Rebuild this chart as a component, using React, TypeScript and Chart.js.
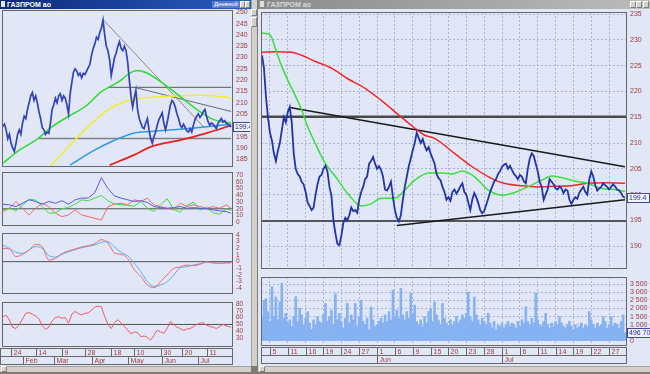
import React, { useEffect, useRef } from 'react';
import { Chart, registerables } from 'chart.js';

Chart.register(...registerables);

const FONT = '"Liberation Sans", Arial, sans-serif';
const TICK = '#9a3a3a';
const BG = '#e2e7f7';
const GRID = '#a8b4da';
const FRAME = '#686868';

// ================= LEFT WINDOW (daily) =================
const leftClose = [
  199.5, 200.5, 198, 194, 196, 192, 190, 188.5, 192, 196,
  198, 196, 201, 204, 203, 207, 210, 213, 214.5, 211,
  213, 210, 206, 203, 199, 198, 196, 197, 196.5, 201,
  207, 209, 212, 210, 213, 214, 211, 213, 212, 209,
  205, 214, 219, 223.5, 225, 224, 222, 223, 221, 223,
  222.5, 224, 225.5, 227, 231, 234, 236, 239, 238, 241,
  243, 246.5, 240, 235, 233, 229, 222, 226, 230, 232,
  235, 237, 234, 233, 235, 233, 228, 220, 213, 208,
  212, 215.5, 207, 203, 201, 199, 198.5, 201, 203, 198,
  194, 192, 195, 197, 200, 202.5, 204, 205.5, 201, 198,
  201, 205, 209, 211, 210, 208, 205, 203, 200, 199,
  200.5, 199, 197.5, 197, 198.5, 197, 200, 202.5, 204, 205,
  203.5, 204.5, 206, 207, 204, 201.5, 200, 201, 200.5, 199.5,
  198.5, 201, 202, 203, 201.5, 202, 201, 200.5, 199.8, 199.4,
];
const leftGreenMA = [[0, 183.2], [10, 189], [20, 193.4], [30, 199.4], [40, 204], [50, 208.2], [60, 214.9], [66, 217.4], [72, 220], [77, 223], [82, 224.2], [88, 223], [96, 219.3], [104, 215], [112, 210.4], [120, 206], [128, 202.6], [139, 200.9]];
const leftYellowMA = [[29, 182], [40, 190.5], [52, 199.4], [64, 206.8], [74, 210.4], [80, 211.6], [90, 212.4], [104, 213], [120, 213.3], [130, 213], [139, 212]];
const leftBlueMA = [[41, 182.4], [56, 189.1], [68, 193.4], [80, 196.6], [90, 197.3], [104, 198], [120, 199], [139, 200.5]];
const leftRedMA = [[65, 182.4], [80, 186.9], [90, 190.5], [108, 193.4], [124, 196.5], [139, 200]];
const leftTrendDown = [[61, 246.8], [123, 198.7]];
const leftTrendMid = [[80, 216.8], [139, 206.1]];
const leftLevelHigh = [[64, 216.8], [139, 216.8]];
const leftLevelLow = [[22, 194.2], [139, 194.2]];
const leftPriceTicks = [185, 190, 195, 200, 205, 210, 215, 220, 225, 230, 235, 240, 245, 250];
const leftLastPrice = 199.4;

const IND_STEP = 4;
const RSI_STEP = 2;
const LEFT_LAST = 139;

const dmiAdx = [26.8, 25.8, 23.3, 28.3, 33.3, 30.8, 26.8, 30.8, 28.3, 32, 26.8, 33.3, 35.8, 36, 44, 66, 50, 39, 35.8, 33.3, 30.8, 32, 29.5, 23.3, 21.8, 20.8, 21.8, 23.3, 20.8, 21.8, 20.8, 19.9, 18.4, 16.9, 15.9, 13.4];
const dmiPlus = [18.4, 21, 17, 26, 34, 33, 23, 13.5, 14, 20, 22, 27, 33.3, 32, 36, 39.7, 32, 27, 26, 25, 24, 31, 21, 15.9, 26, 35, 19, 15, 25, 30, 18, 22, 14, 12, 20, 18];
const dmiMinus = [15.9, 20.8, 30.8, 20.8, 10.9, 20.8, 28.3, 23.3, 13.4, 8.4, 10.9, 18.4, 10.9, 8.4, 5.9, 3.4, 23.3, 26.8, 28.3, 25.8, 33.3, 30.8, 35.8, 25.8, 23.3, 20.8, 18.4, 28.3, 23.3, 25.8, 23.3, 20.8, 23.3, 20.8, 25.8, 20.8];
const dmiTicks = [0, 10, 20, 30, 40, 50, 60, 70];
const dmiLevel = 20;

const macdLine = [2.0, 1.9, 0.75, 1.1, 1.75, 2.6, 2.25, 0.25, 0.5, 1.2, 1.6, 1.9, 2.2, 2.4, 2.7, 3.3, 2.8, 1.3, 1.1, 0.5, -1.2, -2.2, -3.5, -3.9, -3.0, -2.0, -1.0, -0.8, -0.5, -0.6, -0.4, 0.0, -0.2, -0.25, -0.15, -0.1];
const macdSignal = [2.5, 2.0, 1.4, 1.25, 1.75, 2.25, 2.0, 0.9, 0.7, 1.1, 1.5, 1.8, 2.1, 2.3, 2.5, 2.9, 3.0, 2.2, 1.4, 0.9, -0.2, -1.5, -3.0, -3.7, -3.5, -3.0, -2.0, -0.9, -0.75, -0.5, -0.3, -0.1, -0.15, -0.2, -0.2, -0.2];
const macdTicks = [-4, -3, -2, -1, 0, 1, 2, 3, 4];
const macdLevel = 0;

const rsiLine = [
  61.4, 63.8, 56.5, 46, 44, 50, 58, 66.3, 67.5, 65,
  62.5, 58, 48, 42.8, 46, 55, 60, 61.4, 59, 60,
  52, 65, 69, 66, 64, 66.3, 67, 71, 75.5, 77,
  76, 62, 50, 44, 53, 57, 52, 47, 41.8, 36,
  39, 38, 32, 33, 31, 27, 34, 41.8, 39, 37,
  44, 54, 50, 46, 44, 41, 43, 44, 46.6, 50,
  52, 52.5, 49, 47, 46, 44, 47, 50, 48, 46.6,
  46,
];
const rsiTicks = [30, 40, 50, 60, 70, 80];
const rsiLevel = 50;

const leftDayIdx = [5, 20, 36, 50, 66, 80, 96, 109, 124];
const leftDayLabels = ['24', '14', '9', '28', '18', '10', '30', '20', '11'];
const leftMonthIdx = [12, 31, 54, 76, 97, 119];
const leftMonthLabels = ['Feb', 'Mar', 'Apr', 'May', 'Jun', 'Jul'];

// ================= RIGHT WINDOW (intraday) =================
const rightClose = [
  227, 224.5, 219, 215, 212, 210.5, 208, 206.5, 208.5, 210,
  212.5, 215, 214, 216, 217, 214, 208, 205, 204, 203.5,
  202.5, 202, 200.5, 198.5, 197.8, 197, 197.5, 200, 202, 203.5,
  203.8, 205, 205.6, 204.5, 201.5, 199.8, 195, 192.5, 190.5, 190.2,
  192, 194.5, 195.5, 195, 196, 197.5, 196.8, 197, 196.5, 199,
  200.5, 201.5, 203, 203.5, 206, 206.5, 207.3, 206, 205, 205.5,
  204.8, 203.5, 201, 200.8, 201.5, 202.5, 199.5, 197, 195.5, 194.8,
  196, 199, 201.5, 203.5, 205.5, 207, 208.6, 210, 212, 211,
  210, 210.8, 209.5, 208.6, 209.2, 208, 207, 206, 204, 203.2,
  202.8, 201.5, 200.5, 199, 199.5, 198.8, 200.5, 201, 200.2, 200.8,
  201.6, 202.2, 200.5, 200, 198.5, 197, 199, 200.3, 199.5, 198.4,
  197, 196.4, 196.8, 198, 199.2, 200.5, 201.5, 202.5, 203, 204,
  204.5, 205.4, 205.8, 206, 205, 205.6, 204.8, 204, 203.6, 203,
  203.8, 203.5, 202.6, 202.2, 205, 207, 208, 207.5, 206, 204.5,
  202.5, 201.5, 199, 200, 201, 203, 202.5, 202, 201.2, 201,
  201.6, 201.2, 200.3, 201, 200.8, 199, 198.2, 199, 199.5, 199.2,
  200.4, 201, 201.5, 200.5, 200, 203, 204.5, 203.5, 201.8, 200.8,
  201.2, 201.5, 202.2, 201.8, 201.5, 201, 201.5, 202, 201.6, 201,
  200.8, 200.3, 199.6, 199.4,
];
const rightGreenMA = [[0, 231.3], [4, 231], [7, 228], [10, 224.8], [13, 222.2], [17, 219], [20, 216.4], [23, 213.2], [27, 209.8], [32, 206], [37, 203.5], [43, 200.3], [50, 197.8], [55, 198.2], [60, 199.3], [67, 199.3], [72, 200.9], [77, 202.8], [84, 204.2], [91, 204.2], [96, 204], [101, 204.6], [107, 203.5], [114, 200.9], [121, 199.9], [128, 200.5], [134, 201.5], [141, 202.8], [146, 203.6], [151, 203.3], [158, 202.6], [164, 202.2], [171, 201.2], [178, 201], [183, 200.6]];
const rightRedMA = [[0, 227.6], [7, 227.7], [15, 227.6], [20, 227], [27, 225.8], [35, 224.5], [43, 222.5], [52, 220.6], [60, 218.3], [69, 215.4], [76, 213.2], [82, 211.5], [87, 210.9], [97, 208], [106, 205.4], [114, 203.5], [121, 202.3], [131, 201.7], [139, 201.5], [148, 201.6], [156, 201.7], [164, 202.2], [173, 202.3], [183, 202.2]];
const rightTrendUpper = [[14, 216.9], [183, 205.4]];
const rightTrendLower = [[68, 194], [183, 199]];
const rightLevelHigh = 215.1;
const rightLevelLow = 194.9;
const rightPriceTicks = [190, 195, 200, 205, 210, 215, 220, 225, 230, 235];
const rightLastPrice = 199.4;

const volume = [
  1400, 2500, 2600, 1800, 1200, 3330, 1500, 2700, 1300, 2400,
  3540, 1400, 1700, 1100, 1300, 900, 1500, 2720, 1200, 2000,
  1600, 1000, 1400, 1800, 1100, 700, 1300, 1000, 1500, 1200,
  1100, 1600, 2300, 1200, 1500, 1900, 1000, 2900, 1300, 1700,
  1200, 800, 1400, 2300, 1100, 1600, 1300, 2300, 900, 1500,
  2500, 1200, 1000, 1400, 700, 2100, 1300, 900, 1000, 1200,
  1400, 1100, 1600, 1200, 1800, 1300, 3130, 1500, 1900, 1400,
  3230, 1600, 1300, 1800, 1400, 2930, 1700, 2200, 1200, 1000,
  1300, 900, 1500, 1100, 1800, 2000, 1200, 2400, 1600, 1300,
  1000, 2300, 1400, 1100, 900, 1300, 1000, 1200, 1500, 1100,
  1300, 1600, 1400, 1700, 3000, 1500, 1200, 2700, 1600, 1300,
  1000, 1400, 1200, 1000, 1700, 1100, 800, 1200, 700, 1000,
  900, 1100, 800, 1000, 1200, 900, 1100, 1000, 800, 1200,
  900, 1300, 1100, 2100, 1200, 1000, 1400, 1100, 2950, 1300,
  1000, 900, 1200, 1700, 1000, 800, 1100, 900, 1200, 1000,
  1500, 1100, 900, 800, 1000, 1200, 900, 700, 1000, 800,
  900, 1100, 800, 1000, 900, 1800, 1300, 1000, 800, 1100,
  900, 1000, 1500, 1200, 800, 1000, 1500, 900, 1100, 1000,
  800, 1200, 1600, 496.7,
];
const volumeTicks = [0, 500, 1000, 1500, 2000, 2500, 3000, 3500];
const volumeLast = 496.7;

const rightDayIdx = [4, 13, 22, 31, 40, 49, 58, 67, 76, 85, 94, 103, 112, 121, 130, 139, 148, 157, 166, 175];
const rightDayLabels = ['5', '11', '16', '19', '24', '27', '1', '6', '9', '15', '20', '23', '28', '1', '6', '11', '14', '19', '22', '27'];
const rightMonthIdx = [58, 121];
const rightMonthLabels = ['Jun', 'Jul'];

// ================= helpers =================
type Pt = { x: number; y: number };
const seq = (vals: number[]): Pt[] => vals.map((y, i) => ({ x: i, y }));
const stepped = (vals: number[], step: number, last: number): Pt[] => vals.map((y, k) => ({ x: Math.min(k * step, last), y }));
const pairs = (p: number[][]): Pt[] => p.map(([x, y]) => ({ x, y }));
const level = (v: number, x0: number, x1: number): Pt[] => [{ x: x0, y: v }, { x: x1, y: v }];

const fmtVol = (v: number) => String(Math.round(v * 1000)).replace(/\B(?=(\d{3})+(?!\d))/g, ' ');

const line = (data: Pt[], color: string, width = 1, extra: any = {}) => ({
  type: 'line', data, borderColor: color, borderWidth: width, pointRadius: 0, fill: false, tension: 0, ...extra,
});
const smooth = { cubicInterpolationMode: 'monotone' };

const yAxis = (min: number, max: number, ticks: number[], width: number, o: any = {}) => ({
  type: 'linear', position: 'right', min, max,
  grid: { display: !!o.grid, color: GRID, drawTicks: false, lineWidth: 1 },
  border: { display: false, dash: [2, 2] },
  ticks: {
    autoSkip: false, color: TICK, font: { size: o.size || 7, family: FONT }, padding: o.pad || 4,
    callback: (v: number) => (o.fmt ? o.fmt(v) : String(v)),
  },
  afterBuildTicks: (s: any) => { s.ticks = ticks.map((value) => ({ value })); },
  afterFit: (s: any) => { s.width = width; s.paddingTop = 0; s.paddingBottom = 0; },
});
const xHidden = (min: number, max: number) => ({ type: 'linear', min, max, display: false, offset: false });
const xGrid = (min: number, max: number, ticks: number[]) => ({
  type: 'linear', min, max, offset: false,
  grid: { display: true, color: GRID, drawTicks: false, offset: false },
  border: { display: false, dash: [2, 2] },
  ticks: { display: false },
  afterBuildTicks: (s: any) => { s.ticks = ticks.map((value) => ({ value })); },
  afterFit: (s: any) => { s.height = 0; s.paddingLeft = 0; s.paddingRight = 0; },
});

const baseOptions = (scales: any, padding: any) => ({
  responsive: false, animation: false, devicePixelRatio: 1, events: [],
  layout: { padding },
  plugins: { legend: { display: false }, tooltip: { enabled: false } },
  scales,
});

const bgPlugin = {
  id: 'bg',
  beforeDraw(chart: any) {
    const { ctx, width, height } = chart;
    ctx.save(); ctx.fillStyle = BG; ctx.fillRect(0, 0, width, height); ctx.restore();
  },
};
const framePlugin = {
  id: 'frame',
  afterDatasetsDraw(chart: any) {
    const { ctx, chartArea: a } = chart;
    ctx.save(); ctx.strokeStyle = FRAME; ctx.lineWidth = 1;
    ctx.strokeRect(Math.floor(a.left) + 0.5, Math.floor(a.top) + 0.5, Math.round(a.right - a.left), Math.round(a.bottom - a.top));
    ctx.restore();
  },
};
const tagPlugin = (value: number, text: string) => ({
  id: 'tag',
  afterDraw(chart: any) {
    const { ctx, chartArea } = chart;
    const y = Math.round(chart.scales.y.getPixelForValue(value));
    const x = Math.round(chartArea.right) + 1;
    ctx.save();
    ctx.font = `7px ${FONT}`;
    const w = Math.ceil(ctx.measureText(text).width) + 4;
    ctx.fillStyle = '#f2f4ff'; ctx.fillRect(x, y - 5, w, 10);
    ctx.strokeStyle = '#3a4aa0'; ctx.lineWidth = 1; ctx.strokeRect(x + 0.5, y - 4.5, w, 9);
    ctx.fillStyle = '#2a2a8a'; ctx.textBaseline = 'middle'; ctx.fillText(text, x + 2, y + 0.5);
    ctx.restore();
  },
});
const datePlugin = (dayIdx: number[], dayLbl: string[], monIdx: number[], monLbl: string[], fromEdge: boolean) => ({
  id: 'dates',
  afterDraw(chart: any) {
    const { ctx, chartArea: a } = chart;
    const xs = chart.scales.x;
    const left = fromEdge ? 0 : Math.floor(a.left);
    const right = Math.round(a.right);
    const top = Math.round(a.bottom) + 2;
    const h = 8;
    ctx.save();
    ctx.strokeStyle = FRAME; ctx.lineWidth = 1;
    ctx.strokeRect(left + 0.5, top + 0.5, right - left, h);
    ctx.strokeRect(left + 0.5, top + h + 0.5, right - left, h);
    ctx.font = `7px ${FONT}`; ctx.fillStyle = TICK; ctx.textBaseline = 'middle';
    const row = (idx: number[], lbl: string[], y0: number) => {
      idx.forEach((d, i) => {
        const x = Math.round(xs.getPixelForValue(d)) + 0.5;
        ctx.beginPath(); ctx.moveTo(x, y0); ctx.lineTo(x, y0 + h); ctx.stroke();
        ctx.fillText(lbl[i], x + 2, y0 + h / 2 + 1);
      });
    };
    row(dayIdx, dayLbl, top);
    row(monIdx, monLbl, top + h);
    ctx.restore();
  },
});

// ================= chart configs =================
const LX0 = -0.5, LX1 = 139.5;
const RX0 = -0.5, RX1 = 183.5;

const leftMain = () => ({
  type: 'line',
  data: {
    datasets: [
      line(seq(leftClose), '#3442b8', 1.7),
      line(pairs(leftGreenMA), '#30dc30', 1.5, smooth),
      line(pairs(leftYellowMA), '#f2ee2a', 1.5, smooth),
      line(pairs(leftBlueMA), '#2a9af0', 1.5, smooth),
      line(pairs(leftRedMA), '#e82020', 1.8, smooth),
      line(pairs(leftTrendDown), '#8a8a8a', 1),
      line(pairs(leftTrendMid), '#6a6a6a', 1),
      line(pairs(leftLevelHigh), '#5a5a5a', 1),
      line(pairs(leftLevelLow), '#808080', 1.5),
    ],
  },
  options: baseOptions({ x: xHidden(LX0, LX1), y: yAxis(182, 251, leftPriceTicks, 18) }, { left: 2, right: 0, top: 1, bottom: 4 }),
  plugins: [bgPlugin, framePlugin, tagPlugin(leftLastPrice, String(leftLastPrice))],
});

const leftDmi = () => ({
  type: 'line',
  data: {
    datasets: [
      line(stepped(dmiAdx, IND_STEP, LEFT_LAST), '#5a5af0', 1),
      line(stepped(dmiPlus, IND_STEP, LEFT_LAST), '#3cdc3c', 1),
      line(stepped(dmiMinus, IND_STEP, LEFT_LAST), '#f06a6a', 1),
      line(level(dmiLevel, LX0, LX1), '#505050', 1),
    ],
  },
  options: baseOptions({ x: xHidden(LX0, LX1), y: yAxis(-4, 74.5, dmiTicks, 18, { size: 6.5 }) }, { left: 2, right: 0, top: 2, bottom: 4 }),
  plugins: [bgPlugin, framePlugin],
});

const leftMacd = () => ({
  type: 'line',
  data: {
    datasets: [
      line(stepped(macdLine, IND_STEP, LEFT_LAST), '#f06a6a', 1, smooth),
      line(stepped(macdSignal, IND_STEP, LEFT_LAST), '#5ab0f4', 1, smooth),
      line(level(macdLevel, LX0, LX1), '#505050', 1),
    ],
  },
  options: baseOptions({ x: xHidden(LX0, LX1), y: yAxis(-4.7, 4.3, macdTicks, 18, { size: 6.5 }) }, { left: 2, right: 0, top: 4, bottom: 4 }),
  plugins: [bgPlugin, framePlugin],
});

const leftRsi = () => ({
  type: 'line',
  data: {
    datasets: [
      line(stepped(rsiLine, RSI_STEP, LEFT_LAST), '#f05a6a', 1),
      line(level(rsiLevel, LX0, LX1), '#505050', 1),
    ],
  },
  options: baseOptions({ x: xHidden(LX0, LX1), y: yAxis(18.3, 83, rsiTicks, 18, { size: 6.5 }) }, { left: 2, right: 0, top: 5, bottom: 20 }),
  plugins: [bgPlugin, framePlugin, datePlugin(leftDayIdx, leftDayLabels, leftMonthIdx, leftMonthLabels, true)],
});

const rightMain = () => ({
  type: 'line',
  data: {
    datasets: [
      line(seq(rightClose), '#2434a8', 1.8),
      line(pairs(rightGreenMA), '#38e038', 1.5, smooth),
      line(pairs(rightRedMA), '#f02828', 1.5, smooth),
      line(pairs(rightTrendUpper), '#1a1a1a', 1.5),
      line(pairs(rightTrendLower), '#1a1a1a', 1.5),
      line(level(rightLevelHigh, RX0, RX1), '#4a4a4a', 2.5),
      line(level(rightLevelLow, RX0, RX1), '#2a2a2a', 1.5),
    ],
  },
  options: baseOptions({ x: xGrid(RX0, RX1, rightDayIdx), y: yAxis(185.78, 235.39, rightPriceTicks, 24, { grid: true }) }, { left: 3, right: 0, top: 3, bottom: 4 }),
  plugins: [bgPlugin, framePlugin, tagPlugin(rightLastPrice, String(rightLastPrice))],
});

const rightVolume = () => ({
  type: 'bar',
  data: {
    datasets: [
      { type: 'bar', data: seq(volume), backgroundColor: '#86b2f2', borderWidth: 0, barPercentage: 1, categoryPercentage: 1 },
    ],
  },
  options: baseOptions({ x: xGrid(RX0, RX1, rightDayIdx), y: yAxis(-246, 3930, volumeTicks, 24, { grid: true, fmt: fmtVol }) }, { left: 3, right: 0, top: 5, bottom: 21 }),
  plugins: [bgPlugin, framePlugin, tagPlugin(volumeLast, fmtVol(volumeLast)), datePlugin(rightDayIdx, rightDayLabels, rightMonthIdx, rightMonthLabels, false)],
});

// ================= components =================
function ChartCanvas({ left, top, width, height, make }: any) {
  const ref = useRef<HTMLCanvasElement>(null);
  useEffect(() => {
    const chart = new Chart(ref.current as HTMLCanvasElement, make());
    return () => chart.destroy();
  }, []);
  return <canvas ref={ref} width={width} height={height} style={{ position: 'absolute', left, top, width, height, display: 'block' }} />;
}

const box = (left: number, top: number, width: number, height: number, style: any = {}) => (
  <div style={{ position: 'absolute', left, top, width, height, boxSizing: 'border-box', ...style }} />
);

export default function App() {
  const btn = { background: '#d4d0c8', border: '1px solid #808080', borderTopColor: '#fff', borderLeftColor: '#fff' };
  return (
    <div style={{ position: 'fixed', left: 0, top: 0, width: 650, height: 374, background: '#7c7c7c', overflow: 'hidden', fontFamily: FONT }}>
      {/* left window */}
      {box(0, 0, 251, 366, { background: BG })}
      <div style={{ position: 'absolute', left: 0, top: 0, width: 251, height: 9, background: 'linear-gradient(90deg,#0c2a78,#2a5cc0)', color: '#fff', fontSize: 7, fontWeight: 'bold', lineHeight: '9px', whiteSpace: 'nowrap' }}>
        <span style={{ position: 'absolute', left: 1, top: 1, width: 4, height: 6, background: '#e8e8e8' }} />
        <span style={{ position: 'absolute', left: 7, top: 0 }}>ГАЗПРОМ ао</span>
        <span style={{ position: 'absolute', left: 212, top: 1, height: 7, lineHeight: '7px', padding: '0 2px', background: '#5a7ad0', fontSize: 6, fontWeight: 'normal' }}>Дневной</span>
      </div>
      {box(240, 1, 5, 7, btn)}
      {box(245, 1, 5, 7, btn)}
      {box(251, 0, 6, 366, { background: '#d4d0c8', borderLeft: '1px solid #a0a0a0' })}
      {box(251, 9, 6, 7, btn)}
      {box(251, 17, 6, 10, btn)}
      <ChartCanvas left={0} top={9} width={250} height={161} make={leftMain} />
      <ChartCanvas left={0} top={170} width={250} height={59} make={leftDmi} />
      <ChartCanvas left={0} top={229} width={250} height={68} make={leftMacd} />
      <ChartCanvas left={0} top={297} width={250} height={69} make={leftRsi} />
      {box(0, 366, 251, 6, { background: '#d4d0c8', borderTop: '1px solid #a0a0a0' })}
      {box(1, 366, 6, 6, btn)}

      {/* right window */}
      {box(258, 0, 392, 366, { background: BG })}
      <div style={{ position: 'absolute', left: 258, top: 0, width: 392, height: 9, background: 'linear-gradient(90deg,#8a8a8a,#bcbcbc)', color: '#d8d8d8', fontSize: 7, fontWeight: 'bold', lineHeight: '9px', whiteSpace: 'nowrap' }}>
        <span style={{ position: 'absolute', left: 2, top: 1, width: 4, height: 6, background: '#e0e0e0' }} />
        <span style={{ position: 'absolute', left: 9, top: 0 }}>ГАЗПРОМ ао</span>
      </div>
      {box(630, 1, 6, 7, btn)}
      {box(636, 1, 6, 7, btn)}
      {box(643, 1, 6, 7, btn)}
      <ChartCanvas left={258} top={9} width={392} height={263} make={rightMain} />
      <ChartCanvas left={258} top={272} width={392} height={94} make={rightVolume} />
      {box(258, 366, 392, 6, { background: '#d4d0c8', borderTop: '1px solid #a0a0a0' })}
      {box(259, 366, 6, 6, btn)}
    </div>
  );
}
